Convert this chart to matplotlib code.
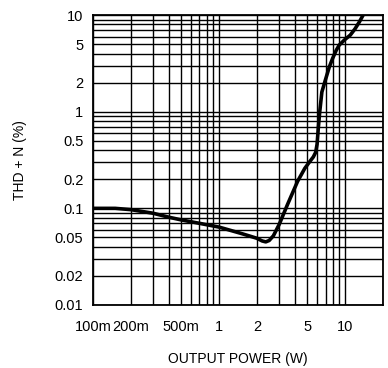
import matplotlib
matplotlib.use("Agg")
import matplotlib.pyplot as plt
from matplotlib.ticker import FixedLocator, NullFormatter, NullLocator

# -----------------------------
# data
# -----------------------------
power = [0.1, 0.15, 0.2, 0.3, 0.4, 0.5, 0.7, 1.0, 1.5, 2.0, 2.2, 2.35, 2.5,
         2.7, 3.0, 3.5, 4.2, 4.8, 5.3, 5.6, 5.85, 6.0, 6.15, 6.3, 6.55, 7.0,
         7.5, 8.0, 8.5, 9.0, 10.0, 11.0, 12.0, 13.0, 14.2]
thd = [0.1, 0.1, 0.097, 0.089, 0.081, 0.076, 0.07, 0.064, 0.055, 0.049, 0.046,
       0.045, 0.0465, 0.052, 0.068, 0.11, 0.19, 0.26, 0.31, 0.34, 0.38, 0.46,
       0.7, 1.0, 1.6, 2.15, 2.9, 3.6, 4.3, 4.9, 5.6, 6.2, 7.2, 8.5, 10.5]

x_ticks = [0.1, 0.2, 0.5, 1, 2, 5, 10]
x_labels = ["100m", "200m", "500m", "1", "2", "5", "10"]
y_ticks = [0.01, 0.02, 0.05, 0.1, 0.2, 0.5, 1, 2, 5, 10]
y_labels = ["0.01", "0.02", "0.05", "0.1", "0.2", "0.5", "1", "2", "5", "10"]

plt.rcParams["font.family"] = ["Liberation Sans", "DejaVu Sans"]

fig = plt.figure(figsize=(3.88, 3.68), dpi=100)
ax = fig.add_axes([0.2397, 0.1712, 0.7473, 0.7878])

ax.set_xscale("log")
ax.set_yscale("log")
ax.set_xlim(0.1, 20)
ax.set_ylim(0.01, 10)

# full grid at every minor step
x_grid = [m * d for d in (0.1, 1, 10) for m in range(1, 10)]
y_grid = [m * d for d in (0.01, 0.1, 1) for m in range(1, 10)] + [10]
for gx in x_grid:
    ax.axvline(gx, color="black", lw=1.0, zorder=1)
for gy in y_grid:
    ax.axhline(gy, color="black", lw=1.0, zorder=1)

ax.plot(power, thd, color="black", lw=2.6, zorder=3,
        solid_capstyle="round", solid_joinstyle="round")

ax.xaxis.set_major_locator(FixedLocator(x_ticks))
ax.xaxis.set_minor_locator(NullLocator())
ax.xaxis.set_minor_formatter(NullFormatter())
ax.set_xticklabels(x_labels)
ax.yaxis.set_major_locator(FixedLocator(y_ticks))
ax.yaxis.set_minor_locator(NullLocator())
ax.yaxis.set_minor_formatter(NullFormatter())
ax.set_yticklabels(y_labels)

ax.tick_params(axis="x", length=0, pad=11, labelsize=10.5)
ax.tick_params(axis="y", length=0, pad=7, labelsize=10.5)

for s in ax.spines.values():
    s.set_linewidth(1.3)

ax.set_xlabel("OUTPUT POWER (W)", fontsize=10, labelpad=13)
ax.set_ylabel("THD + N (%)", fontsize=10, labelpad=20)

fig.savefig("out.png", dpi=100)
